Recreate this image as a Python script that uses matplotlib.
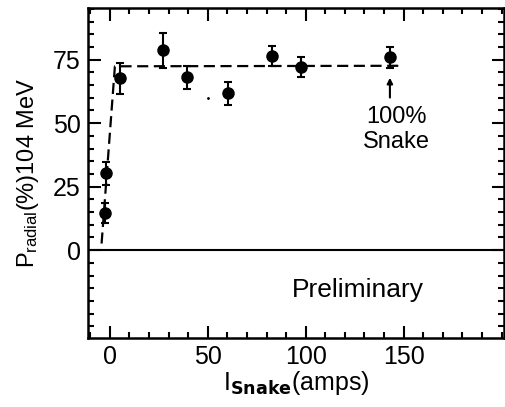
import matplotlib
matplotlib.use('Agg')
import matplotlib.pyplot as plt
from matplotlib.ticker import MultipleLocator

plt.rcParams['font.family'] = ['Liberation Sans', 'DejaVu Sans']
plt.rcParams['mathtext.default'] = 'regular'

# 数据：蛇形磁铁电流 与 径向极化度
current = [-2.6, -1.7, 5.4, 27.2, 39.4, 60.4, 83.0, 97.8, 142.9]
polar = [14.7, 30.2, 67.6, 78.7, 68.0, 61.7, 76.4, 72.2, 75.9]
err_lo = [4.0, 4.5, 6.0, 7.0, 4.5, 4.5, 4.0, 4.0, 4.0]
err_hi = [4.0, 4.5, 6.0, 7.0, 4.5, 4.5, 4.0, 4.0, 4.0]

# 虚线（拟合趋势）
fit_x = [-4.2, 2.6, 148.0]
fit_y = [2.6, 72.4, 72.6]

fig = plt.figure(figsize=(5.05, 4.07), dpi=100)
ax = fig.add_axes([0.174, 0.1695, 0.825, 0.8105])

ax.plot(fit_x, fit_y, color='black', linestyle=(0, (5, 2.5)), linewidth=1.6)
ax.errorbar(current, polar, yerr=[err_lo, err_hi], fmt='o', color='black',
            markersize=8, elinewidth=1.5, capsize=3, capthick=1.5)
ax.plot([50], [60], marker='.', color='black', markersize=2)
ax.axhline(0, color='black', linewidth=1.5)

# 100% Snake 标注
ax.annotate('', xy=(143, 69), xytext=(143, 59),
            arrowprops=dict(arrowstyle='-|>', color='black', lw=1.5, mutation_scale=8))
ax.text(146.5, 52.5, '100%', fontsize=17, ha='center', va='center')
ax.text(146.5, 42.6, 'Snake', fontsize=17, ha='center', va='center')
ax.text(126.7, -15.7, 'Preliminary', fontsize=19, ha='center', va='center')

ax.set_xlim(-11.2, 201.5)
ax.set_ylim(-34.6, 95.3)
ax.set_xticks([0, 50, 100, 150])
ax.set_yticks([0, 25, 50, 75])
ax.xaxis.set_minor_locator(MultipleLocator(10))
ax.yaxis.set_minor_locator(MultipleLocator(5))
ax.tick_params(which='both', direction='in', top=True, right=True, width=1.5)
ax.tick_params(which='major', length=9, labelsize=18, pad=5)
ax.tick_params(which='minor', length=4)
for s in ax.spines.values():
    s.set_linewidth(1.8)

ax.set_xlabel(r'I$_{\mathbf{Snake}}$(amps)', fontsize=18, labelpad=0)
ax.set_ylabel('P$_{radial}$(%)104 MeV', fontsize=17, labelpad=9)

plt.savefig('out.png', dpi=100)
plt.close()
